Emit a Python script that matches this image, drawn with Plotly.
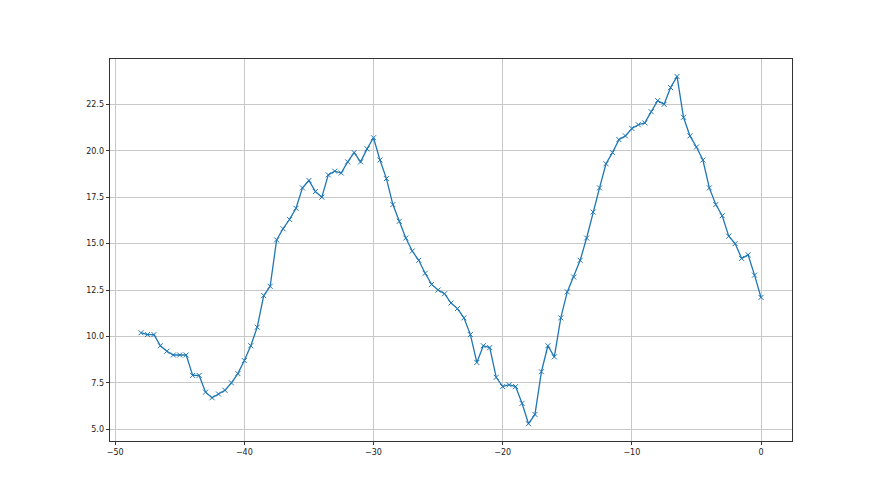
import plotly.graph_objects as go

# x positions: -48 to 0 in half steps
x_vals = [-48 + 0.5 * i for i in range(97)]

y_vals = [
    10.2, 10.1, 10.1, 9.5, 9.2, 9.0, 9.0, 9.0, 7.9, 7.9,
    7.0, 6.7, 6.9, 7.1, 7.5, 8.0, 8.7, 9.5, 10.5, 12.2,
    12.7, 15.2, 15.8, 16.3, 16.9, 18.0, 18.4, 17.8, 17.5, 18.7,
    18.9, 18.8, 19.4, 19.9, 19.4, 20.1, 20.7, 19.5, 18.5, 17.1,
    16.2, 15.3, 14.6, 14.1, 13.4, 12.8, 12.5, 12.3, 11.8, 11.5,
    11.0, 10.1, 8.6, 9.5, 9.4, 7.8, 7.3, 7.4, 7.3, 6.4,
    5.3, 5.8, 8.1, 9.5, 8.9, 11.0, 12.4, 13.2, 14.1, 15.3,
    16.7, 18.0, 19.3, 19.9, 20.6, 20.8, 21.2, 21.4, 21.5, 22.1,
    22.7, 22.5, 23.4, 24.0, 21.8, 20.8, 20.2, 19.5, 18.0, 17.1,
    16.5, 15.4, 15.0, 14.2, 14.4, 13.3, 12.1,
]

x_ticks = [-50, -40, -30, -20, -10, 0]
y_ticks = [5.0, 7.5, 10.0, 12.5, 15.0, 17.5, 20.0, 22.5]

fig = go.Figure()
fig.add_trace(go.Scatter(
    x=x_vals, y=y_vals,
    mode='lines+markers',
    line=dict(color='#1f77b4', width=1.3),
    marker=dict(symbol='x-thin', size=5, color='#1f77b4',
                line=dict(color='#1f77b4', width=1)),
    showlegend=False,
))

axis_style = dict(
    showline=True, mirror=True, linecolor='#333333', linewidth=0.8,
    showgrid=True, gridcolor='#c8c8c8', gridwidth=0.8,
    ticks='outside', ticklen=3.5, tickwidth=0.8, tickcolor='#333333',
    zeroline=False,
    tickfont=dict(family='DejaVu Sans', size=8, color='#222222'),
)

fig.update_xaxes(range=[-50.4, 2.4], tickvals=x_ticks, **axis_style)
fig.update_yaxes(range=[4.37, 24.94], tickvals=y_ticks, tickformat='.1f', **axis_style)

# page body adds an 8px offset, so margins are shifted to line up the axes box
fig.update_layout(
    width=880, height=495,
    margin=dict(l=102, r=96, t=51, b=62),
    plot_bgcolor='white', paper_bgcolor='white',
)

fig.write_html("out.html")
